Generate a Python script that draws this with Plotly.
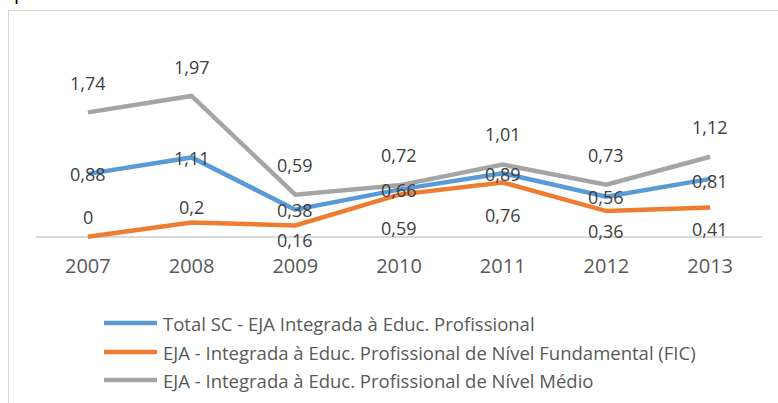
import plotly.graph_objects as go

# Series data
years = ["2007", "2008", "2009", "2010", "2011", "2012", "2013"]
total_sc = [0.88, 1.11, 0.38, 0.66, 0.89, 0.56, 0.81]
nivel_fundamental = [0, 0.2, 0.16, 0.59, 0.76, 0.36, 0.41]
nivel_medio = [1.74, 1.97, 0.59, 0.72, 1.01, 0.73, 1.12]

series_names = [
    "Total SC - EJA Integrada à Educ. Profissional",
    "EJA - Integrada à Educ. Profissional de Nível Fundamental (FIC)",
    "EJA - Integrada à Educ. Profissional de Nível Médio",
]
series_values = [total_sc, nivel_fundamental, nivel_medio]
series_colors = ["#5B9BD5", "#ED7D31", "#A5A5A5"]

# Vertical pixel offsets of the value labels for each series
label_shifts = [
    [0, -1, 0, 0, -1, 0, -2],
    [20, 16, -15, -33, -33, -20, -21],
    [29, 29, 30, 30, 31, 30, 30],
]

W, H = 778, 403
ML, MR, MT, MB = 36, 16, 58, 159
FONT = "Open Sans"

fig = go.Figure()

# Lines drawn in back-to-front order: grey, orange, blue on top
for idx in [2, 1, 0]:
    fig.add_trace(go.Scatter(
        x=years, y=series_values[idx], mode="lines", name=series_names[idx],
        line=dict(color=series_colors[idx], width=4.5),
        showlegend=False, hoverinfo="skip",
    ))

annotations = []

def fmt(v):
    s = f"{v:g}"
    return s.replace(".", ",")

# Value labels (category position given by index on the category axis)
for vals, shifts in zip(series_values, label_shifts):
    for i, (v, sh) in enumerate(zip(vals, shifts)):
        annotations.append(dict(
            x=i, y=v, xref="x", yref="y", text=fmt(v), showarrow=False,
            yshift=sh, font=dict(family=FONT, size=18, color="#404040"),
        ))

# Pixel -> paper helpers
pw = W - ML - MR
ph = H - MT - MB
def px(x):
    return (x - ML) / pw
def py(y):
    return (H - MB - y) / ph

# Legend (drawn below the plot)
shapes = []
legend_rows = [323, 352, 380]
for name, color, yrow in zip(series_names, series_colors, legend_rows):
    shapes.append(dict(type="line", xref="paper", yref="paper",
                       x0=px(104), x1=px(157), y0=py(yrow), y1=py(yrow),
                       line=dict(color=color, width=4.5)))
    annotations.append(dict(
        x=px(161), y=py(yrow), xref="paper", yref="paper", text=name,
        showarrow=False, xanchor="left", yanchor="middle",
        font=dict(family=FONT, size=18.5, color="#595959"),
    ))

# Chart frame
shapes.append(dict(type="line", xref="paper", yref="paper",
                   x0=px(8), x1=px(800), y0=py(10.5), y1=py(10.5),
                   line=dict(color="#D9D9D9", width=1)))
shapes.append(dict(type="line", xref="paper", yref="paper",
                   x0=px(8.5), x1=px(8.5), y0=py(10), y1=py(420),
                   line=dict(color="#D9D9D9", width=1)))

# Descender of the heading text above the frame
annotations.append(dict(
    x=px(20), y=py(7), xref="paper", yref="paper", text="p",
    showarrow=False, xanchor="center", yanchor="bottom",
    font=dict(family=FONT, size=20, color="#000000"),
))

fig.update_layout(
    width=W, height=H,
    margin=dict(l=ML, r=MR, t=MT, b=MB),
    paper_bgcolor="white", plot_bgcolor="white",
    showlegend=False,
    annotations=annotations,
    shapes=shapes,
    xaxis=dict(
        type="category", range=[-0.5, 6.5], showgrid=False, showline=False,
        ticks="", tickfont=dict(family=FONT, size=20, color="#595959"),
        ticklabelstandoff=8, fixedrange=True,
    ),
    yaxis=dict(
        range=[-0.1, 2.5], showgrid=False, showticklabels=False, ticks="",
        zeroline=True, zerolinecolor="#D9D9D9", zerolinewidth=1.5,
        showline=False, fixedrange=True,
    ),
)

fig.write_html("out.html")
